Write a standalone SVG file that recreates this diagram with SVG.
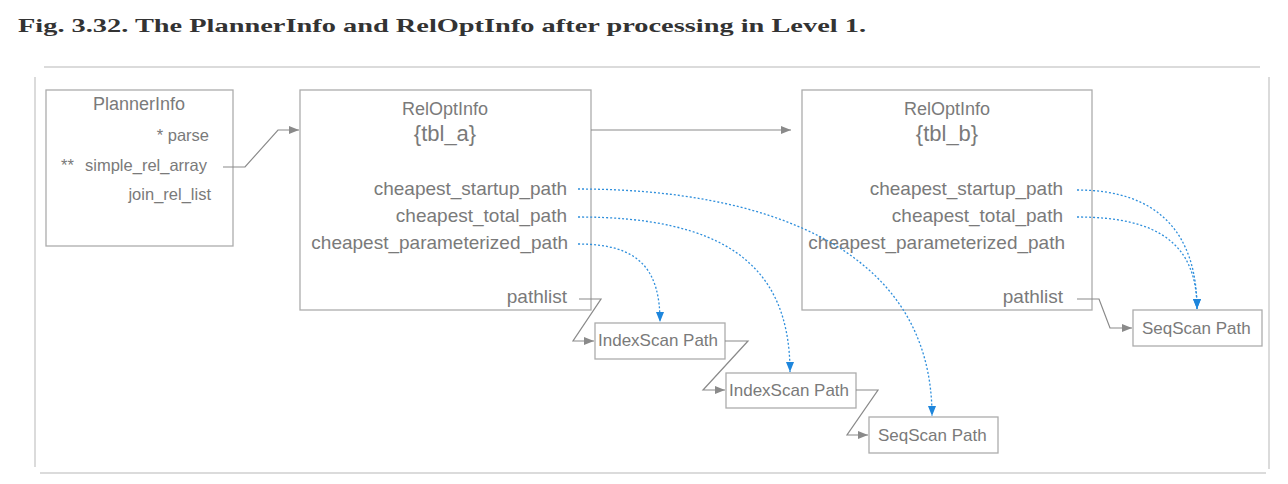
<svg xmlns="http://www.w3.org/2000/svg" width="1288" height="484" viewBox="0 0 1288 484">
<defs>
<style>
.box{fill:#fff;stroke:#acacac;stroke-width:1.3}
.t{font-family:"Liberation Sans",Arial,sans-serif;fill:#7a7a7a}
.c{fill:none;stroke:#8a8a8a;stroke-width:1.2}
.d{fill:none;stroke:#2f8fdc;stroke-width:1.3;stroke-dasharray:2 2}
.frame{stroke:#cfcfcf;stroke-width:1.5}
</style>
<marker id="ga" markerUnits="userSpaceOnUse" markerWidth="11" markerHeight="9" refX="10" refY="4" orient="auto">
<path d="M0,0 L10,4 L0,8 z" fill="#8a8a8a"/>
</marker>
<marker id="ba" markerUnits="userSpaceOnUse" markerWidth="11" markerHeight="9" refX="10" refY="4" orient="auto">
<path d="M0,0 L10,4 L0,8 z" fill="#1e86dc"/>
</marker>
</defs>
<rect width="1288" height="484" fill="#fff"/>
<text x="18" y="32" font-family="'Liberation Serif','DejaVu Serif',serif" font-weight="bold" font-size="19" fill="#333" textLength="848" lengthAdjust="spacingAndGlyphs">Fig. 3.32. The PlannerInfo and RelOptInfo after processing in Level 1.</text>
<g id="frame">
<line class="frame" x1="44" y1="67" x2="1260" y2="67"/>
<line class="frame" x1="35" y1="77" x2="35" y2="467"/>
<line class="frame" x1="40" y1="473" x2="1266" y2="473"/>
<line class="frame" x1="1269" y1="77" x2="1269" y2="469"/>
</g>
<g id="plannerinfo">
<rect class="box" x="46" y="90" width="187" height="156"/>
<text class="t" x="139" y="110" font-size="18" text-anchor="middle">PlannerInfo</text>
<text class="t" x="209" y="141" font-size="16.5" text-anchor="end">* parse</text>
<text class="t" x="61" y="171" font-size="16.5">**</text>
<text class="t" x="207" y="171" font-size="16.5" text-anchor="end">simple_rel_array</text>
<text class="t" x="211" y="200" font-size="16.5" text-anchor="end">join_rel_list</text>
</g>
<g id="reloptinfo_a">
<rect class="box" x="300" y="90" width="291" height="220"/>
<text class="t" x="445" y="115" font-size="18" text-anchor="middle">RelOptInfo</text>
<text class="t" x="445" y="141" font-size="22" text-anchor="middle">{tbl_a}</text>
<text class="t" x="567" y="195" font-size="19" text-anchor="end">cheapest_startup_path</text>
<text class="t" x="567" y="222" font-size="19" text-anchor="end">cheapest_total_path</text>
<text class="t" x="568" y="249" font-size="19" text-anchor="end">cheapest_parameterized_path</text>
<text class="t" x="567" y="303" font-size="19" text-anchor="end">pathlist</text>
</g>
<g id="reloptinfo_b">
<rect class="box" x="802" y="90" width="290" height="220"/>
<text class="t" x="947" y="115" font-size="18" text-anchor="middle">RelOptInfo</text>
<text class="t" x="947" y="141" font-size="22" text-anchor="middle">{tbl_b}</text>
<text class="t" x="1063" y="195" font-size="19" text-anchor="end">cheapest_startup_path</text>
<text class="t" x="1063" y="222" font-size="19" text-anchor="end">cheapest_total_path</text>
<text class="t" x="1065" y="249" font-size="19" text-anchor="end">cheapest_parameterized_path</text>
<text class="t" x="1063" y="303" font-size="19" text-anchor="end">pathlist</text>
</g>
<g id="indexscan1">
<rect class="box" x="595" y="323" width="130" height="36"/>
<text class="t" x="598" y="346" font-size="17">IndexScan Path</text>
</g>
<g id="indexscan2">
<rect class="box" x="726" y="373" width="130" height="35"/>
<text class="t" x="729" y="396" font-size="17">IndexScan Path</text>
</g>
<g id="seqscan_a">
<rect class="box" x="869" y="417" width="129" height="36"/>
<text class="t" x="878" y="441" font-size="17">SeqScan Path</text>
</g>
<g id="seqscan_b">
<rect class="box" x="1133" y="310" width="129" height="36"/>
<text class="t" x="1142" y="334" font-size="17">SeqScan Path</text>
</g>
<g id="connectors">
<path class="c" d="M223,167 L245,167 L278,130 L299,130" marker-end="url(#ga)"/>
<path class="c" d="M591,130 L791,130" marker-end="url(#ga)"/>
<path class="c" d="M579,299 L601,299 L573,341 L594,341" marker-end="url(#ga)"/>
<path class="c" d="M725,341 L748,341 L703,390 L725,390" marker-end="url(#ga)"/>
<path class="c" d="M856,390 L878,390 L847,435 L868,435" marker-end="url(#ga)"/>
<path class="c" d="M1077,299 L1099,299 L1110,328 L1132,328" marker-end="url(#ga)"/>
<path class="d" d="M578,244 C640,244 660,270 660,322" marker-end="url(#ba)"/>
<path class="d" d="M578,217 C720,217 790,262 790,372" marker-end="url(#ba)"/>
<path class="d" d="M578,189 C760,189 932,245 932,416" marker-end="url(#ba)"/>
<path class="d" d="M1077,190 C1160,190 1197,235 1197,309" marker-end="url(#ba)"/>
<path class="d" d="M1077,217 C1160,217 1197,245 1197,309" marker-end="url(#ba)"/>
</g>
</svg>
